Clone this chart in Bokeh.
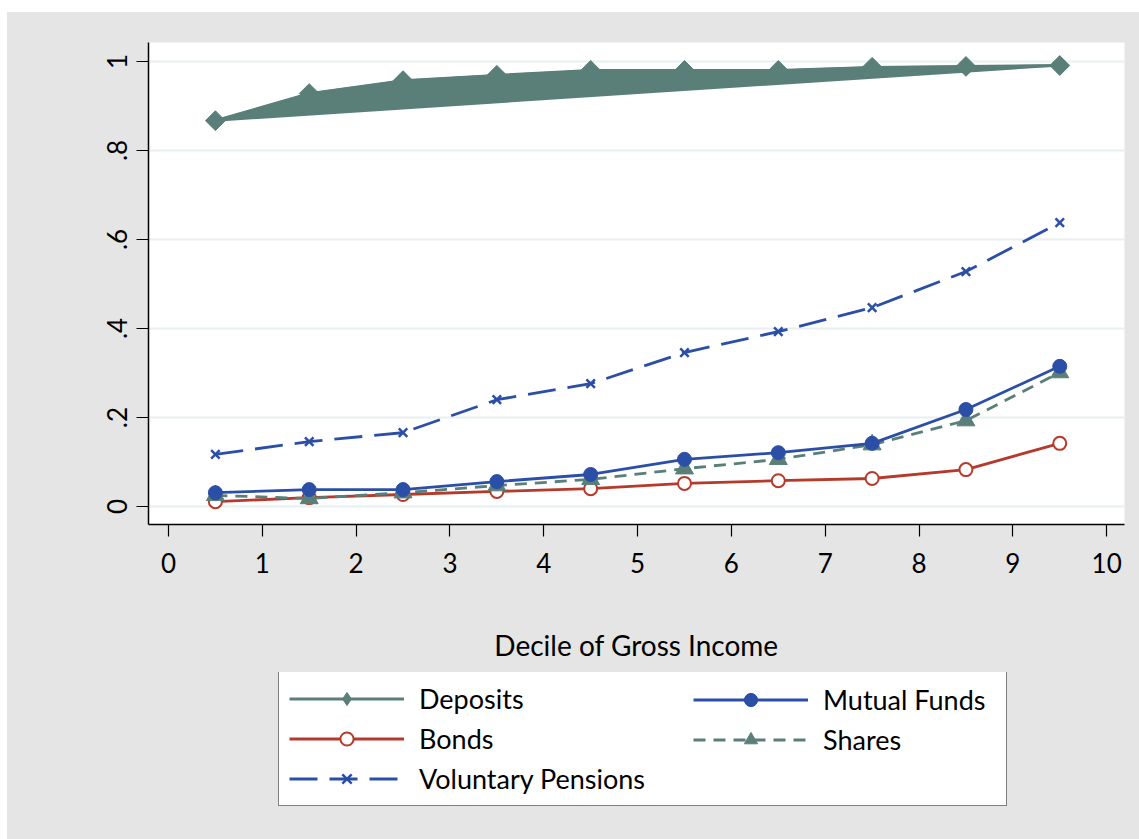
from bokeh.plotting import figure
from bokeh.layouts import column
from bokeh.models import Legend, LegendItem, FixedTicker, ColumnDataSource, CustomJSTickFormatter
from bokeh.embed import file_html
from bokeh.resources import INLINE
import math

# Decile midpoints and share of households holding each asset
deciles = [0.5, 1.5, 2.5, 3.5, 4.5, 5.5, 6.5, 7.5, 8.5, 9.5]
deposits = [0.867, 0.928, 0.957, 0.969, 0.980, 0.980, 0.980, 0.987, 0.989, 0.991]
mutual_funds = [0.031, 0.038, 0.038, 0.056, 0.072, 0.106, 0.121, 0.142, 0.218, 0.315]
bonds = [0.011, 0.020, 0.027, 0.034, 0.040, 0.052, 0.058, 0.063, 0.083, 0.142]
shares = [0.025, 0.018, 0.031, 0.047, 0.061, 0.085, 0.106, 0.139, 0.193, 0.301]
voluntary_pensions = [0.117, 0.146, 0.166, 0.240, 0.276, 0.346, 0.393, 0.447, 0.528, 0.638]

x_ticks = [0, 1, 2, 3, 4, 5, 6, 7, 8, 9, 10]
y_ticks = [0, 0.2, 0.4, 0.6, 0.8, 1]
y_tick_labels = ["0", ".2", ".4", ".6", ".8", "1"]

TEAL = "#5a7f79"
BLUE = "#2b4ea6"
RED = "#b63a2c"
GRAY = "#e5e5e5"
FONT = "Lato"
LW = 2.8

# series styles: (line kwargs, marker kwargs)
STYLES = {
    "Deposits": (dict(line_color=TEAL, line_width=LW),
                 dict(marker="square", angle=math.pi / 4, size=14, fill_color=TEAL, line_color=TEAL)),
    "Voluntary Pensions": (dict(line_color=BLUE, line_width=LW, line_dash="28 12"),
                           dict(marker="x", size=12, line_color=BLUE, line_width=2.5)),
    "Bonds": (dict(line_color=RED, line_width=LW),
              dict(marker="circle", size=13, fill_color="white", line_color=RED, line_width=2)),
    "Shares": (dict(line_color=TEAL, line_width=LW, line_dash="12 8"),
               dict(marker="triangle", size=18, fill_color=TEAL, line_color=TEAL)),
    "Mutual Funds": (dict(line_color=BLUE, line_width=LW),
                     dict(marker="circle", size=14, fill_color=BLUE, line_color=BLUE)),
}
SERIES = {
    "Deposits": deposits,
    "Voluntary Pensions": voluntary_pensions,
    "Bonds": bonds,
    "Shares": shares,
    "Mutual Funds": mutual_funds,
}

p = figure(width=1132, height=660, x_range=(-0.213, 10.19), y_range=(-0.0404, 1.0427),
           output_backend="svg", toolbar_location=None,
           min_border_left=141, min_border_right=15, min_border_top=30, min_border_bottom=148)
p.background_fill_color = "white"
p.border_fill_color = GRAY
p.outline_line_color = None

# axes
p.xaxis.ticker = FixedTicker(ticks=x_ticks)
p.yaxis.ticker = FixedTicker(ticks=y_ticks)
p.yaxis.formatter = CustomJSTickFormatter(
    args=dict(tick_values=y_ticks, tick_labels=y_tick_labels),
    code="const i = tick_values.findIndex((t) => Math.abs(t - tick) < 1e-9);"
         "return i >= 0 ? tick_labels[i] : String(tick);")
p.yaxis.major_label_orientation = "vertical"
for ax in (p.xaxis[0], p.yaxis[0]):
    ax.axis_line_color = "black"
    ax.axis_line_width = 1.5
    ax.major_tick_line_color = "black"
    ax.major_tick_line_width = 1.2
    ax.major_tick_in = 0
    ax.major_tick_out = 12
    ax.minor_tick_line_color = None
    ax.major_label_text_font = FONT
    ax.major_label_text_font_size = "26px"
    ax.major_label_text_color = "black"
p.xaxis.major_label_standoff = 16
p.yaxis.major_label_standoff = 9
p.xaxis.axis_label = "Decile of Gross Income"
p.xaxis.axis_label_text_font = FONT
p.xaxis.axis_label_text_font_size = "28px"
p.xaxis.axis_label_text_font_style = "normal"
p.xaxis.axis_label_text_color = "black"
p.xaxis.axis_label_standoff = 52

p.xgrid.grid_line_color = None
p.ygrid.grid_line_color = "#e8eff1"
p.ygrid.grid_line_width = 2

# Deposits are drawn as the filled outline of the series
p.patch(deciles, deposits, fill_color=TEAL, line_color=TEAL, line_width=2)
for name in ["Deposits", "Voluntary Pensions", "Bonds", "Shares", "Mutual Funds"]:
    line_kw, marker_kw = STYLES[name]
    p.line(deciles, SERIES[name], **line_kw)
    p.scatter(deciles, SERIES[name], **marker_kw)

# Key panel underneath the chart
key = figure(width=1132, height=167, x_range=(0, 1), y_range=(0, 1),
             output_backend="svg", toolbar_location=None,
             min_border_left=0, min_border_right=0, min_border_top=0, min_border_bottom=0)
key.axis.visible = False
key.grid.visible = False
key.background_fill_color = GRAY
key.border_fill_color = GRAY
key.outline_line_color = None


def key_item(name):
    # sample renderers for the key; their single point lies off the panel
    line_kw, marker_kw = STYLES[name]
    marker_kw = dict(marker_kw)
    if name == "Deposits":
        marker_kw.update(marker="diamond", size=22)
        marker_kw.pop("angle")
    src = ColumnDataSource(dict(x=[float("nan")], y=[float("nan")]))
    r1 = key.line("x", "y", source=src, **line_kw)
    r2 = key.scatter("x", "y", source=src, **marker_kw)
    return LegendItem(label=name, renderers=[r1, r2])


def make_legend(names, loc, boxed, label_width):
    lg = Legend(items=[key_item(n) for n in names], location=loc, orientation="vertical",
                glyph_width=115, glyph_height=33, spacing=7, padding=10,
                label_standoff=15, label_width=label_width, label_height=33,
                label_text_font=FONT, label_text_font_size="27px", label_text_color="black")
    if boxed:
        lg.background_fill_color = "white"
        lg.background_fill_alpha = 1
        lg.border_line_color = "black"
        lg.border_line_width = 1.2
    else:
        lg.background_fill_alpha = 0
        lg.border_line_color = None
    return lg


key.add_layout(make_legend(["Deposits", "Bonds", "Voluntary Pensions"], (130, 33), True, 577))
key.add_layout(make_legend(["Mutual Funds", "Shares"], (545, 83), False, 20))

page = column(p, key, spacing=0, margin=(12, 0, 0, 7), styles={"background-color": GRAY})

open("out.html", "w").write(file_html(page, INLINE))
